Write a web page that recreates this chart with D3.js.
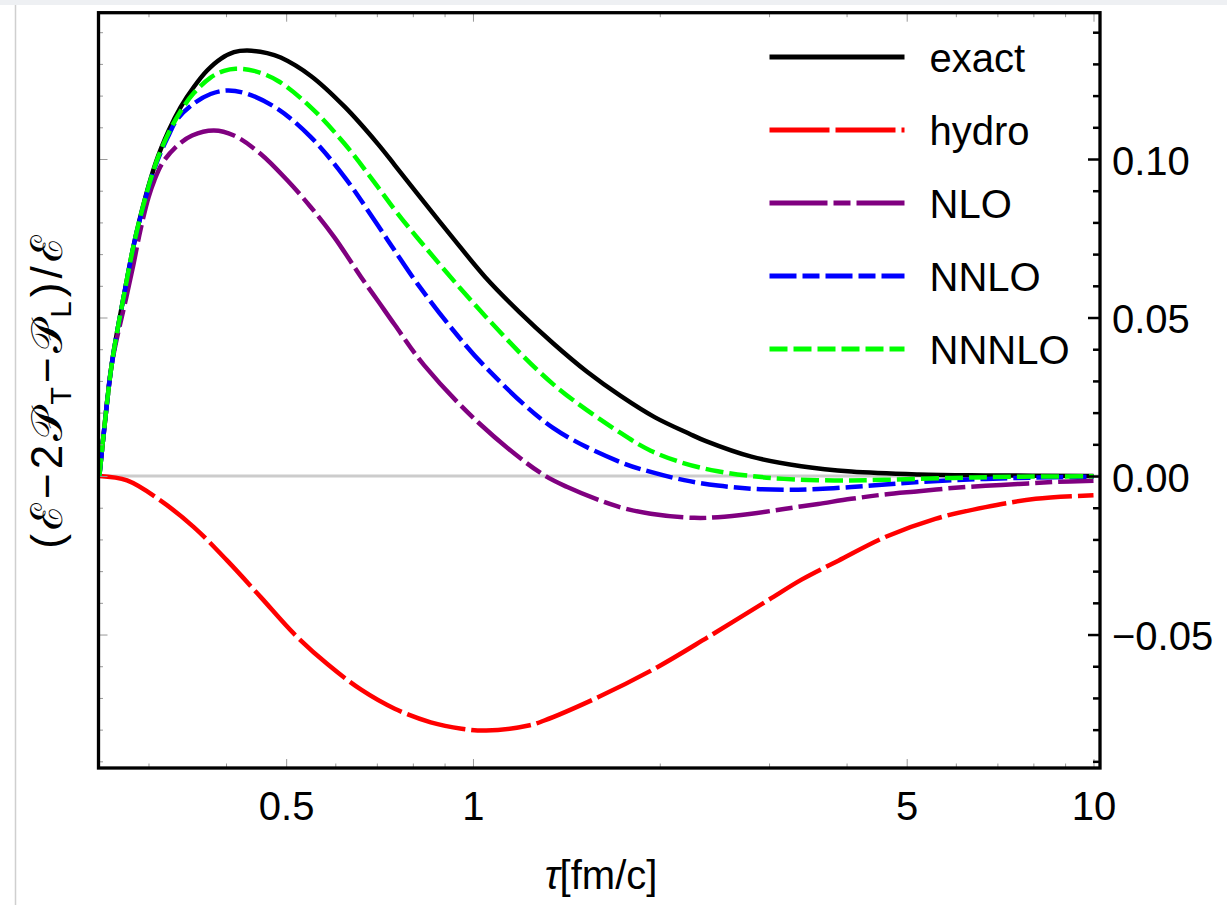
<!DOCTYPE html>
<html>
<head>
<meta charset="utf-8">
<script src="https://cdn.jsdelivr.net/npm/d3@7"></script>
<style>
  html, body { margin: 0; padding: 0; background: #fff; }
  svg text { font-family: "Liberation Sans", Arial, sans-serif; fill: #000; }
</style>
</head>
<body>
<svg id="chart" width="1227" height="905"></svg>
<script>
// values: [tau (fm/c), (E - 2PT - PL)/E]
const exact = [[0.25, 0], [0.2544, 0.0144], [0.2618, 0.0354], [0.2735, 0.0564], [0.2874, 0.0774],
  [0.3078, 0.0985], [0.3234, 0.1090], [0.3378, 0.1163], [0.3549, 0.1227], [0.3729, 0.1279],
  [0.3922, 0.1316], [0.412, 0.1337], [0.4325, 0.1342], [0.466, 0.1334], [0.49, 0.1320],
  [0.548, 0.1262], [0.621, 0.1165], [0.703, 0.1047], [0.748, 0.0981], [0.814, 0.0890],
  [0.923, 0.0757], [1.046, 0.0628], [1.187, 0.0518], [1.346, 0.0419], [1.527, 0.0329],
  [1.732, 0.0252], [1.965, 0.0185], [2.228, 0.0134], [2.374, 0.0110], [2.81, 0.0061],
  [3.38, 0.0031], [4.07, 0.0014], [5.23, 0.0005], [6.7, 0.0002], [10, 0]];

const hydro = [[0.25, 0], [0.277, -0.0014], [0.3134, -0.0077], [0.3549, -0.0161], [0.4018, -0.0267],
  [0.455, -0.0382], [0.515, -0.0498], [0.5832, -0.0594], [0.6604, -0.0674], [0.748, -0.0734],
  [0.855, -0.0777], [0.959, -0.0797], [1.05, -0.0803], [1.229, -0.0787], [1.30, -0.0772],
  [1.59, -0.0698], [1.982, -0.0603], [2.388, -0.0509], [2.987, -0.0392], [3.39, -0.0326],
  [3.88, -0.0267], [4.61, -0.0193], [5.56, -0.0135], [6.7, -0.0098], [8.07, -0.0072], [10, -0.0061]];

const nlo = [[0.25, 0], [0.2544, 0.0144], [0.2618, 0.0353], [0.2763, 0.0564], [0.2838, 0.0669],
  [0.291, 0.0774], [0.3001, 0.0880], [0.3065, 0.0932], [0.3154, 0.0985], [0.3316, 0.1037],
  [0.3527, 0.1074], [0.3824, 0.1090], [0.412, 0.1074], [0.455, 0.1016], [0.5025, 0.0932],
  [0.548, 0.0848], [0.598, 0.0753], [0.6604, 0.0627], [0.703, 0.0552], [0.748, 0.0477],
  [0.834, 0.0350], [1.021, 0.0168], [1.28, 0.0012], [1.416, -0.0034], [1.71, -0.0096],
  [1.934, -0.0119], [2.273, -0.0132], [2.48, -0.0130], [2.81, -0.0119], [3.17, -0.0104],
  [3.6, -0.0088], [4.07, -0.0072], [4.61, -0.0058], [5.23, -0.0048], [5.91, -0.0038],
  [6.7, -0.0031], [7.58, -0.0025], [8.6, -0.0019], [10, -0.0015]];

const nnlo = [[0.25, 0], [0.2544, 0.0144], [0.2618, 0.0354], [0.2735, 0.0563], [0.2874, 0.0772],
  [0.3078, 0.0978], [0.3234, 0.1075], [0.3336, 0.1125], [0.3549, 0.1175], [0.3777, 0.1205],
  [0.4018, 0.1216], [0.4325, 0.1206], [0.4844, 0.1158], [0.548, 0.1069], [0.621, 0.0943],
  [0.703, 0.0790], [0.748, 0.0711], [0.814, 0.0606], [0.923, 0.0467], [1.046, 0.0345],
  [1.346, 0.0152], [1.732, 0.0043], [1.934, 0.0013], [2.19, -0.0013], [2.48, -0.0030],
  [2.81, -0.0040], [3.17, -0.0043], [3.6, -0.0041], [4.34, -0.0031], [5.23, -0.0019],
  [6.7, -0.0009], [8.6, -0.0004], [10, -0.0002]];

const nnnlo = [[0.25, 0], [0.2544, 0.0144], [0.2618, 0.0354], [0.2735, 0.0564], [0.2874, 0.0774],
  [0.3078, 0.0982], [0.3234, 0.1083], [0.3378, 0.1150], [0.3549, 0.1208], [0.3777, 0.1257],
  [0.397, 0.1278], [0.4145, 0.1285], [0.4437, 0.1278], [0.4844, 0.1247], [0.548, 0.1163],
  [0.621, 0.1048], [0.703, 0.0911], [0.748, 0.0840], [0.814, 0.0751], [1.046, 0.0505],
  [1.346, 0.0290], [1.732, 0.0135], [1.934, 0.0080], [2.19, 0.0040], [2.48, 0.0015],
  [2.81, 0.0000], [3.17, -0.0009], [3.82, -0.0014], [4.61, -0.0012], [5.91, -0.0006],
  [7.58, -0.0002], [10, -0.0001]];

const seriesData = [exact, hydro, nlo, nnlo, nnnlo];
const seriesNames = ['exact', 'hydro', 'NLO', 'NNLO', 'NNNLO'];
const seriesColors = ['#000000', '#ff0000', '#800080', '#0000ff', '#00ff00'];
const seriesDash = [null, '60 6', '58 6 17 6', '27 6 17 6', '18 6'];

const xTickVals = [0.5, 1, 5, 10];
const xTickLabels = ['0.5', '1', '5', '10'];
const xMinorVals = [0.3, 0.4, 0.6, 0.7, 0.8, 0.9, 2, 3, 4, 6, 7, 8, 9];
const yTickVals = [-0.05, 0, 0.05, 0.10];
const yTickLabels = ['\u22120.05', '0.00', '0.05', '0.10'];
const yMinorVals = d3.range(-9, 15).map((i) => i / 100).filter((v) => Math.abs(v * 20 - Math.round(v * 20)) > 1e-6);

const svg = d3.select('#chart');
const frame = { left: 98.5, right: 1100, top: 12.7, bottom: 768 };

const x = d3.scaleLog().domain([0.2492, 10.244]).range([frame.left, frame.right]);
const y = d3.scaleLinear().domain([-0.0921, 0.14615]).range([frame.bottom, frame.top]);

// page chrome from the screenshot
svg.append('rect').attr('x', 0).attr('y', 0).attr('width', 1227).attr('height', 905).attr('fill', '#fff');
svg.append('rect').attr('x', 0).attr('y', 0).attr('width', 1227).attr('height', 5).attr('fill', '#eef0f3');
svg.append('line').attr('x1', 15.5).attr('x2', 15.5).attr('y1', 5).attr('y2', 905)
  .attr('stroke', '#cfcfcf').attr('stroke-width', 1.5);

svg.append('defs').append('clipPath').attr('id', 'plot-clip')
  .append('rect')
  .attr('x', frame.left).attr('y', frame.top)
  .attr('width', frame.right - frame.left).attr('height', frame.bottom - frame.top);

// zero line
svg.append('line')
  .attr('x1', frame.left).attr('x2', frame.right)
  .attr('y1', y(0)).attr('y2', y(0))
  .attr('stroke', '#cccccc').attr('stroke-width', 3);

const line = d3.line()
  .x((d) => x(d[0]))
  .y((d) => y(d[1]))
  .curve(d3.curveCatmullRom.alpha(0.5));

const plotG = svg.append('g').attr('clip-path', 'url(#plot-clip)');
seriesData.forEach((data, i) => {
  plotG.append('path')
    .datum(data)
    .attr('d', line)
    .attr('fill', 'none')
    .attr('stroke', seriesColors[i])
    .attr('stroke-width', 4.5)
    .attr('stroke-dasharray', seriesDash[i]);
});

// thin gray frame ticks
function grayTicks(axis, transform) {
  const g = svg.append('g').attr('transform', transform).call(axis);
  g.select('.domain').remove();
  g.selectAll('.tick line').attr('stroke', '#999').attr('stroke-width', 1);
  return g;
}

const bottomMajor = grayTicks(
  d3.axisBottom(x).tickValues(xTickVals)
    .tickFormat((d) => xTickLabels[xTickVals.indexOf(d)])
    .tickSize(-9).tickPadding(24),
  `translate(0,${frame.bottom})`
);
bottomMajor.selectAll('text').style('font-size', '40px').attr('fill', '#000');
grayTicks(d3.axisBottom(x).tickValues(xMinorVals).tickFormat('').tickSize(-4.5), `translate(0,${frame.bottom})`);
grayTicks(d3.axisTop(x).tickValues(xTickVals).tickFormat('').tickSize(-9), `translate(0,${frame.top})`);
grayTicks(d3.axisTop(x).tickValues(xMinorVals).tickFormat('').tickSize(-4.5), `translate(0,${frame.top})`);
grayTicks(d3.axisLeft(y).tickValues(yTickVals).tickFormat('').tickSize(-9), `translate(${frame.left},0)`);
grayTicks(d3.axisLeft(y).tickValues(yMinorVals).tickFormat('').tickSize(-4.5), `translate(${frame.left},0)`);

// right axis: black ticks and labels
const rightMajor = svg.append('g')
  .attr('transform', `translate(${frame.right},0)`)
  .call(d3.axisRight(y).tickValues(yTickVals)
    .tickFormat((d) => yTickLabels[yTickVals.indexOf(d)])
    .tickSize(-12).tickPadding(12));
rightMajor.select('.domain').remove();
rightMajor.selectAll('.tick line').attr('stroke', '#000').attr('stroke-width', 2.5);
rightMajor.selectAll('text').style('font-size', '40px').attr('dy', '0.38em').attr('fill', '#000');

const rightMinor = svg.append('g')
  .attr('transform', `translate(${frame.right},0)`)
  .call(d3.axisRight(y).tickValues(yMinorVals).tickFormat('').tickSize(-7));
rightMinor.select('.domain').remove();
rightMinor.selectAll('.tick line').attr('stroke', '#000').attr('stroke-width', 2.5);

// frame
svg.append('rect')
  .attr('x', frame.left).attr('y', frame.top)
  .attr('width', frame.right - frame.left).attr('height', frame.bottom - frame.top)
  .attr('fill', 'none').attr('stroke', '#000').attr('stroke-width', 3.3);

// legend
const legendTop = 57;
const legendStep = 73;
const legend = svg.append('g');
seriesNames.forEach((name, i) => {
  const ly = legendTop + i * legendStep;
  legend.append('line')
    .attr('x1', 769.5).attr('x2', 904.5)
    .attr('y1', ly).attr('y2', ly)
    .attr('stroke', seriesColors[i])
    .attr('stroke-width', 5)
    .attr('stroke-dasharray', seriesDash[i]);
  legend.append('text')
    .attr('x', 929.5).attr('y', ly + 15)
    .style('font-size', '40px')
    .text(name);
});

// axis titles
const xLab = svg.append('text')
  .attr('x', 601).attr('y', 889)
  .attr('text-anchor', 'middle')
  .style('font-size', '40px');
xLab.append('tspan').style('font-style', 'italic').text('\u03c4');
xLab.append('tspan').text('[fm/c]');

const yLab = svg.append('text')
  .attr('transform', 'translate(62,390) rotate(-90)')
  .attr('text-anchor', 'middle')
  .style('font-size', '44px')
  .style('letter-spacing', '4px');
yLab.append('tspan').text('(\u2130\u22122\ud835\udcab');
yLab.append('tspan').style('font-size', '29px').attr('dy', 9).text('T');
yLab.append('tspan').attr('dy', -9).text('\u2212\ud835\udcab');
yLab.append('tspan').style('font-size', '29px').attr('dy', 9).text('L');
yLab.append('tspan').attr('dy', -9).text(')/\u2130');
</script>
</body>
</html>
